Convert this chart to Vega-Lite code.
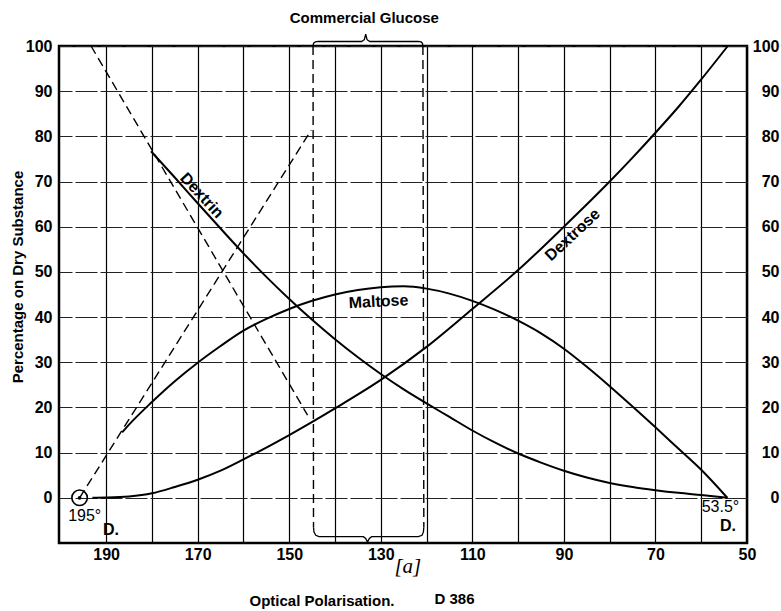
{
  "$schema": "https://vega.github.io/schema/vega-lite/v6.json",
  "width": 688,
  "height": 497,
  "autosize": {"type": "none"},
  "padding": {"left": 59, "top": 46, "right": 34, "bottom": 68},
  "background": "white",
  "config": {
    "font": "Liberation Sans",
    "view": {"stroke": "black", "strokeWidth": 2.5},
    "text": {"color": "black", "font": "Liberation Sans"}
  },
  "resolve": {"axis": {"y": "independent"}},
  "encoding": {
    "x": {
      "field": "x", "type": "quantitative",
      "scale": {"domain": [50, 200.3], "reverse": true, "nice": false, "zero": false},
      "axis": {
        "values": [190, 180, 170, 160, 150, 140, 130, 120, 110, 100, 90, 80, 70, 60, 50],
        "labelExpr": "datum.value % 20 == 10 ? datum.label : ''",
        "grid": true, "gridColor": "black", "gridWidth": 1.2, "gridOpacity": 1,
        "ticks": false, "domain": false,
        "labelFontSize": 16, "labelFontWeight": "bold", "labelColor": "black",
        "labelPadding": 3, "labelFlush": false, "labelOverlap": false, "labelBound": false,
        "title": "Optical Polarisation.", "titleX": 262.5, "titleY": 57,
        "titleFontSize": 15, "titleFontWeight": "bold", "titleColor": "black",
        "titleAlign": "center", "titleBaseline": "middle"
      }
    },
    "y": {
      "field": "y", "type": "quantitative",
      "scale": {"domain": [-10, 100], "nice": false, "zero": false},
      "axis": null
    }
  },
  "layer": [
    {
      "data": {"values": [
        {"series": "Dextrin", "x": 180.2, "y": 76.7},
        {"series": "Dextrin", "x": 175, "y": 70.9},
        {"series": "Dextrin", "x": 170, "y": 65.2},
        {"series": "Dextrin", "x": 165, "y": 59.6},
        {"series": "Dextrin", "x": 160, "y": 54.1},
        {"series": "Dextrin", "x": 155, "y": 48.9},
        {"series": "Dextrin", "x": 150, "y": 44.0},
        {"series": "Dextrin", "x": 145, "y": 39.4},
        {"series": "Dextrin", "x": 140, "y": 35.1},
        {"series": "Dextrin", "x": 135, "y": 31.1},
        {"series": "Dextrin", "x": 130, "y": 27.4},
        {"series": "Dextrin", "x": 125, "y": 24.0},
        {"series": "Dextrin", "x": 120, "y": 20.9},
        {"series": "Dextrin", "x": 115, "y": 17.9},
        {"series": "Dextrin", "x": 110, "y": 14.9},
        {"series": "Dextrin", "x": 105, "y": 12.2},
        {"series": "Dextrin", "x": 100, "y": 9.8},
        {"series": "Dextrin", "x": 95, "y": 7.8},
        {"series": "Dextrin", "x": 90, "y": 6.0},
        {"series": "Dextrin", "x": 85, "y": 4.5},
        {"series": "Dextrin", "x": 80, "y": 3.3},
        {"series": "Dextrin", "x": 75, "y": 2.4},
        {"series": "Dextrin", "x": 70, "y": 1.7},
        {"series": "Dextrin", "x": 65, "y": 1.1},
        {"series": "Dextrin", "x": 60, "y": 0.6},
        {"series": "Dextrin", "x": 54.3, "y": 0},
        {"series": "Maltose", "x": 186.5, "y": 14.5},
        {"series": "Maltose", "x": 185, "y": 16.2},
        {"series": "Maltose", "x": 180, "y": 21.2},
        {"series": "Maltose", "x": 175, "y": 25.8},
        {"series": "Maltose", "x": 170, "y": 29.9},
        {"series": "Maltose", "x": 165, "y": 33.6},
        {"series": "Maltose", "x": 160, "y": 37.0},
        {"series": "Maltose", "x": 155, "y": 39.6},
        {"series": "Maltose", "x": 150, "y": 41.8},
        {"series": "Maltose", "x": 145, "y": 43.6},
        {"series": "Maltose", "x": 140, "y": 45.0},
        {"series": "Maltose", "x": 135, "y": 46.0},
        {"series": "Maltose", "x": 130, "y": 46.6},
        {"series": "Maltose", "x": 125, "y": 46.8},
        {"series": "Maltose", "x": 120, "y": 46.3},
        {"series": "Maltose", "x": 115, "y": 45.2},
        {"series": "Maltose", "x": 110, "y": 43.6},
        {"series": "Maltose", "x": 105, "y": 41.6},
        {"series": "Maltose", "x": 100, "y": 39.2},
        {"series": "Maltose", "x": 95, "y": 36.4},
        {"series": "Maltose", "x": 90, "y": 33.0},
        {"series": "Maltose", "x": 85, "y": 29.0},
        {"series": "Maltose", "x": 80, "y": 24.7},
        {"series": "Maltose", "x": 75, "y": 20.2},
        {"series": "Maltose", "x": 70, "y": 15.6},
        {"series": "Maltose", "x": 65, "y": 10.9},
        {"series": "Maltose", "x": 60, "y": 6.2},
        {"series": "Maltose", "x": 54.3, "y": 0},
        {"series": "Dextrose", "x": 193, "y": 0},
        {"series": "Dextrose", "x": 190, "y": 0.05},
        {"series": "Dextrose", "x": 185, "y": 0.3},
        {"series": "Dextrose", "x": 180, "y": 1.0},
        {"series": "Dextrose", "x": 175, "y": 2.4},
        {"series": "Dextrose", "x": 170, "y": 4.0},
        {"series": "Dextrose", "x": 165, "y": 6.0},
        {"series": "Dextrose", "x": 160, "y": 8.5},
        {"series": "Dextrose", "x": 150, "y": 13.9},
        {"series": "Dextrose", "x": 140, "y": 19.8},
        {"series": "Dextrose", "x": 130, "y": 26.1},
        {"series": "Dextrose", "x": 120, "y": 33.4},
        {"series": "Dextrose", "x": 110, "y": 41.8},
        {"series": "Dextrose", "x": 100, "y": 50.4},
        {"series": "Dextrose", "x": 90, "y": 60.0},
        {"series": "Dextrose", "x": 80, "y": 70.0},
        {"series": "Dextrose", "x": 75, "y": 75.3},
        {"series": "Dextrose", "x": 70, "y": 80.8},
        {"series": "Dextrose", "x": 65, "y": 86.5},
        {"series": "Dextrose", "x": 60, "y": 92.6},
        {"series": "Dextrose", "x": 54.2, "y": 100}
      ]},
      "mark": {"type": "line", "interpolate": "monotone", "color": "black", "strokeWidth": 2, "clip": false},
      "encoding": {
        "y": {
          "field": "y", "type": "quantitative",
          "axis": {
            "orient": "left",
            "values": [0, 10, 20, 30, 40, 50, 60, 70, 80, 90, 100],
            "grid": true, "gridColor": "#222", "gridWidth": 1, "gridOpacity": 1, "gridDash": [22, 3],
            "ticks": false, "domain": false,
            "labelFontSize": 16, "labelFontWeight": "bold", "labelColor": "black", "labelPadding": 7,
            "labelFlush": false, "labelOverlap": false,
            "title": "Percentage on Dry Substance", "titleX": -42, "titleY": 230.5, "titleAngle": -90,
            "titleFontSize": 15, "titleFontWeight": "bold", "titleColor": "black",
            "titleAlign": "center", "titleBaseline": "middle"
          }
        },
        "detail": {"field": "series"}
      }
    },
    {
      "data": {"values": [
        {"series": "A", "i": 1, "x": 195.8, "y": 0},
        {"series": "A", "i": 2, "x": 145.2, "y": 81.4},
        {"series": "B", "i": 1, "x": 193.3, "y": 100},
        {"series": "B", "i": 2, "x": 146.0, "y": 18.3},
        {"series": "L", "i": 1, "x": 144.8, "y": 100},
        {"series": "L", "i": 2, "x": 144.7, "y": -6.5},
        {"series": "R", "i": 1, "x": 120.8, "y": 100},
        {"series": "R", "i": 2, "x": 120.6, "y": -6.5}
      ]},
      "mark": {"type": "line", "color": "black", "strokeWidth": 1.4, "strokeDash": [9, 5], "clip": false},
      "encoding": {
        "y": {
          "field": "y", "type": "quantitative",
          "axis": {
            "orient": "right",
            "values": [0, 10, 20, 30, 40, 50, 60, 70, 80, 90, 100],
            "grid": false, "ticks": false, "domain": false,
            "labelFontSize": 16, "labelFontWeight": "bold", "labelColor": "black",
            "labelAlign": "right", "labelPadding": 32, "labelFlush": false, "labelOverlap": false,
            "title": null
          }
        },
        "detail": {"field": "series"},
        "order": {"field": "i", "type": "quantitative"}
      }
    },
    {
      "data": {"values": [
        {"series": "top", "i": 1, "x": 144.8, "y": 100},
        {"series": "top", "i": 2, "x": 144.7, "y": 100.6},
        {"series": "top", "i": 3, "x": 144.3, "y": 100.9},
        {"series": "top", "i": 4, "x": 143.7, "y": 101.0},
        {"series": "top", "i": 5, "x": 134.2, "y": 101.0},
        {"series": "top", "i": 6, "x": 133.6, "y": 101.4},
        {"series": "top", "i": 7, "x": 133.3, "y": 102.6},
        {"series": "top", "i": 8, "x": 133.0, "y": 101.4},
        {"series": "top", "i": 9, "x": 132.4, "y": 101.0},
        {"series": "top", "i": 10, "x": 121.8, "y": 101.0},
        {"series": "top", "i": 11, "x": 121.2, "y": 100.9},
        {"series": "top", "i": 12, "x": 120.9, "y": 100.6},
        {"series": "top", "i": 13, "x": 120.8, "y": 100},
        {"series": "bottom", "i": 1, "x": 144.7, "y": -6.5},
        {"series": "bottom", "i": 2, "x": 144.6, "y": -7.6},
        {"series": "bottom", "i": 3, "x": 144.2, "y": -8.3},
        {"series": "bottom", "i": 4, "x": 143.5, "y": -8.6},
        {"series": "bottom", "i": 5, "x": 133.8, "y": -8.6},
        {"series": "bottom", "i": 6, "x": 133.3, "y": -9.0},
        {"series": "bottom", "i": 7, "x": 132.9, "y": -9.8},
        {"series": "bottom", "i": 8, "x": 132.5, "y": -9.0},
        {"series": "bottom", "i": 9, "x": 132.0, "y": -8.6},
        {"series": "bottom", "i": 10, "x": 121.8, "y": -8.6},
        {"series": "bottom", "i": 11, "x": 121.0, "y": -8.3},
        {"series": "bottom", "i": 12, "x": 120.7, "y": -7.6},
        {"series": "bottom", "i": 13, "x": 120.6, "y": -6.5}
      ]},
      "mark": {"type": "line", "color": "black", "strokeWidth": 1.3, "clip": false},
      "encoding": {
        "detail": {"field": "series"},
        "order": {"field": "i", "type": "quantitative"}
      }
    },
    {
      "data": {"values": [{"x": 195.8, "y": 0}]},
      "mark": {"type": "point", "shape": "circle", "size": 240, "filled": false, "stroke": "black", "strokeWidth": 1.6, "opacity": 1}
    },
    {
      "data": {"values": [{"x": 195.8, "y": 0}]},
      "mark": {"type": "point", "shape": "circle", "size": 14, "filled": true, "color": "black", "opacity": 1}
    },
    {
      "data": {"values": [{"text": "Dextrin", "x": 169.1, "y": 66.9}]},
      "mark": {"type": "text", "angle": 47, "fontSize": 16, "fontWeight": "bold", "align": "center", "baseline": "middle"},
      "encoding": {"text": {"field": "text"}}
    },
    {
      "data": {"values": [{"text": "Maltose", "x": 130.5, "y": 43.4}]},
      "mark": {"type": "text", "angle": -3, "fontSize": 16, "fontWeight": "bold", "align": "center", "baseline": "middle"},
      "encoding": {"text": {"field": "text"}}
    },
    {
      "data": {"values": [{"text": "Dextrose", "x": 88.1, "y": 58.2}]},
      "mark": {"type": "text", "angle": -43, "fontSize": 16, "fontWeight": "bold", "align": "center", "baseline": "middle"},
      "encoding": {"text": {"field": "text"}}
    },
    {
      "data": {"values": [
        {"text": "Commercial Glucose", "x": 133.6, "y": 106.3},
        {"text": "D 386", "x": 113.9, "y": -22.4}
      ]},
      "mark": {"type": "text", "fontSize": 15, "fontWeight": "bold", "align": "center", "baseline": "middle"},
      "encoding": {"text": {"field": "text"}}
    },
    {
      "data": {"values": [
        {"text": "195°", "x": 198.3, "y": -4.1},
        {"text": "53.5°", "x": 59.9, "y": -2.1}
      ]},
      "mark": {"type": "text", "fontSize": 16, "align": "left", "baseline": "middle"},
      "encoding": {"text": {"field": "text"}}
    },
    {
      "data": {"values": [
        {"text": "D.", "x": 190.7, "y": -7.1},
        {"text": "D.", "x": 55.9, "y": -6.2}
      ]},
      "mark": {"type": "text", "fontSize": 16, "fontWeight": "bold", "align": "left", "baseline": "middle"},
      "encoding": {"text": {"field": "text"}}
    },
    {
      "data": {"values": [{"text": "[a]", "x": 124.1, "y": -15.3}]},
      "mark": {"type": "text", "font": "Liberation Serif", "fontStyle": "italic", "fontSize": 21, "align": "center", "baseline": "middle"},
      "encoding": {"text": {"field": "text"}}
    }
  ]
}
